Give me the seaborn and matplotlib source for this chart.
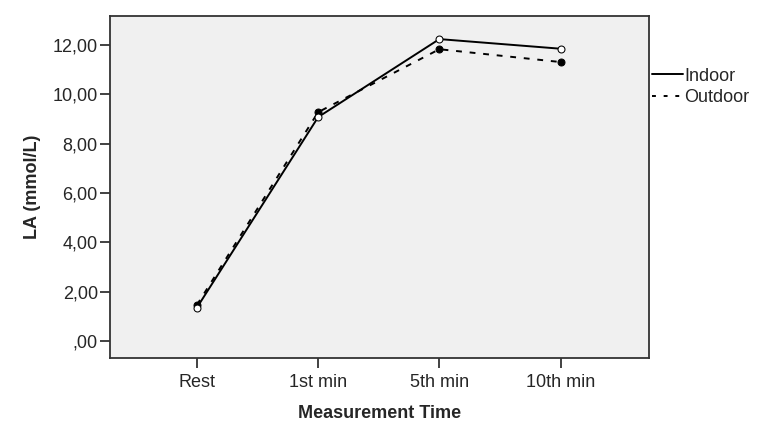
import pandas as pd
import numpy as np
import matplotlib.pyplot as plt
import seaborn as sns
from matplotlib.lines import Line2D
from matplotlib.ticker import FuncFormatter

# Datos
tiempos = ['Rest', '1st min', '5th min', '10th min']
indoor = [1.35, 9.07, 12.23, 11.84]
outdoor = [1.46, 9.27, 11.82, 11.30]

df = pd.DataFrame({
    'pos': list(range(len(tiempos))) * 2,
    'LA': indoor + outdoor,
    'grupo': ['Indoor'] * len(tiempos) + ['Outdoor'] * len(tiempos),
})

sns.set_style('white')
plt.rcParams['font.family'] = ['Liberation Sans', 'DejaVu Sans']

fig = plt.figure(figsize=(7.63, 4.23), dpi=100)
ax = fig.add_axes([0.1437, 0.1537, 0.707, 0.8093])
ax.set_facecolor('#f0f0f0')

sns.lineplot(data=df, x='pos', y='LA', hue='grupo', style='grupo',
             palette={'Indoor': 'black', 'Outdoor': 'black'},
             dashes={'Indoor': '', 'Outdoor': (3, 4)},
             markers={'Indoor': 'o', 'Outdoor': 'o'},
             linewidth=1.4, markersize=5, legend=False, ax=ax)

# marcadores: Indoor abierto, Outdoor relleno
ax.lines[0].set_markerfacecolor('white')
ax.lines[0].set_markeredgecolor('black')
ax.lines[1].set_markerfacecolor('black')
ax.lines[1].set_markeredgecolor('black')
ax.lines[0].set_zorder(3)

ax.set_xlim(-0.72, 3.73)
ax.set_ylim(-0.69, 13.18)
ax.set_xticks(range(len(tiempos)))
ax.set_xticklabels(tiempos)
ax.set_yticks(np.arange(0, 13, 2))
ax.yaxis.set_major_formatter(FuncFormatter(
    lambda v, p: ',00' if v == 0 else f'{v:.2f}'.replace('.', ',')))

ax.tick_params(axis='both', direction='out', length=7.5, width=1.3,
               color='#333333', labelsize=13, bottom=True, left=True)
ax.tick_params(axis='y', pad=1)
ax.tick_params(axis='x', pad=4)
for s in ax.spines.values():
    s.set_color('#333333')
    s.set_linewidth(1.3)

ax.set_xlabel('Measurement Time', fontsize=13, fontweight='bold', labelpad=10)
ax.set_ylabel('LA (mmol/L)', fontsize=13, fontweight='bold', labelpad=8)

handles = [
    Line2D([], [], color='black', lw=1.4),
    Line2D([], [], color='black', lw=1.4, dashes=(2, 4)),
]
fig.legend(handles, ['Indoor', 'Outdoor'], loc='upper left',
           bbox_to_anchor=(0.855, 0.84), frameon=False, fontsize=13,
           handlelength=1.7, handletextpad=0.05, labelspacing=0.25,
           borderaxespad=0, borderpad=0)

fig.savefig('out.png', dpi=100)
